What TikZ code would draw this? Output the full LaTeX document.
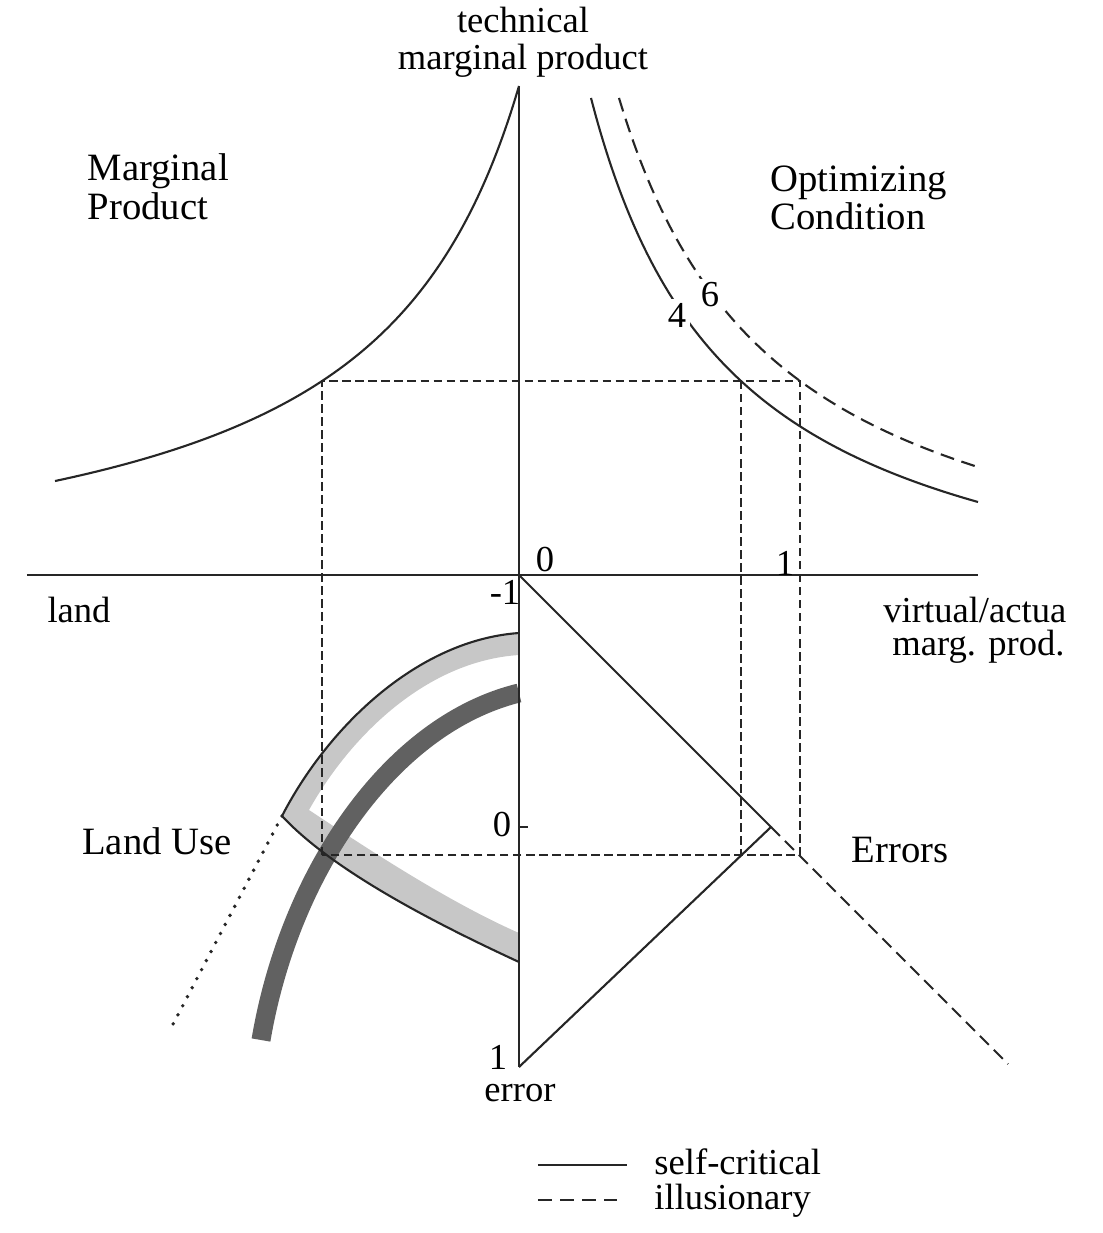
\documentclass[tikz,border=0pt]{standalone}
\usepackage{fontspec}
\setmainfont{Liberation Serif}
\usetikzlibrary{positioning}

\begin{document}
\begin{tikzpicture}[
    x=0.01cm, y=0.01cm,
    ink/.style={line width=0.6pt, black!85},
    guide/.style={ink, line width=0.5pt, dash pattern=on 2.4pt off 1.3pt},
    illus/.style={ink, dash pattern=on 4pt off 2.2pt},
    lbl/.style={font=\fontsize{10.4}{10.5}\selectfont, inner sep=0.5pt, align=center},
    ttl/.style={font=\fontsize{11}{10}\selectfont, inner sep=0pt, align=left}
]
    \useasboundingbox (-519,-658) rectangle (583,575);

    \coordinate (O) at (0,0);
    \coordinate (YT) at (0,489);
    \coordinate (YB) at (0,-492);
    \coordinate (XL) at (-492,0);
    \coordinate (XR) at (459,0);
    \coordinate (TIP) at (252,-252);
    \coordinate (DEND) at (489,-489);

    \fill[black!22] (0,-58) .. controls (-100,-65) and (-190,-150) .. (-237,-241)
        .. controls (-185,-297) and (-80,-350) .. (0,-387) -- (0,-358)
        .. controls (-75,-325) and (-160,-268) .. (-210,-235)
        .. controls (-168,-160) and (-92,-86) .. (0,-80) -- cycle;
    \draw[black!62, line width=0.19cm] (0,-118) .. controls (-130,-150) and (-230,-300) .. (-258,-465);
    \draw[ink] (0,-58) .. controls (-100,-65) and (-190,-150) .. (-237,-241) coordinate (LC)
        .. controls (-185,-297) and (-80,-350) .. (0,-387);
    \draw[ink, line width=1.1pt, line cap=round, dash pattern=on 0pt off 2.9pt] (LC) -- (-349,-455);

    \draw[ink] (XL) -- (XR);
    \draw[ink] (YT) -- (YB);

    \draw[ink] plot[domain=-464:0, samples=90, smooth] (\x, {814.74/((154.7-\x)/100)-37.7});
    \draw[ink] plot[domain=72:459, samples=90, smooth] (\x, {795.4/((\x+71.6)/100)-76.9});
    \draw[illus] plot[domain=100:462, samples=90, smooth] (\x, {858.5/((\x+60.7)/100)-57.2});

    \draw[guide] (-197,-280) -- (-197,194) -- (281,194) -- (281,-280) -- cycle;
    \draw[guide] (222,194) -- (222,-280);

    \draw[ink] (O) -- (TIP) -- (YB);
    \draw[ink, dash pattern=on 3.6pt off 2pt] (TIP) -- (DEND);
    \draw[ink] (0,-252) -- (9,-252);

    \node[lbl] (TMP) at (4,533) {technical\\marginal product};
    \node[ttl, anchor=west] (MP) at (-432,388) {Marginal\\Product};
    \node[ttl, anchor=west] (OC) at (251,377) {Optimizing\\Condition};
    \node[lbl] (Z0) at (26,15) {0};
    \node[lbl] (X1) at (266,12) {1};
    \node[lbl] (M1) at (-14,-17) {-1};
    \node[lbl] (LAND) at (-440,-35) {land};
    \node[lbl, anchor=west] (VIRT) at (362,-35) {virtual/actua};
    \node[lbl, anchor=west] (MARG) at (371,-72) {marg. prod.};
    \node[ttl] (LU) at (-362,-266) {Land Use};
    \node[ttl] (ERR) at (381,-275) {Errors};
    \node[lbl] (E0) at (-17,-250) {0};
    \node[lbl] (E1) at (-21,-482) {1};
    \node[lbl] (ERRL) at (1,-518) {error};
    \node[lbl, fill=white, inner sep=1pt] (K4) at (158,260) {4};
    \node[lbl, fill=white, inner sep=1pt] (K6) at (191,280) {6};

    \coordinate (LS1) at (19,-590);
    \coordinate (LS2) at (108,-590);
    \coordinate (LD1) at (19,-625);
    \coordinate (LD2) at (98,-625);
    \draw[ink] (LS1) -- (LS2);
    \draw[ink, dash pattern=on 4pt off 2.3pt] (LD1) -- (LD2);
    \node[lbl, anchor=base west] (SC) at (133,-599) {self-critical};
    \node[lbl, anchor=base west] (IL) at (133,-634) {illusionary};
\end{tikzpicture}
\end{document}
